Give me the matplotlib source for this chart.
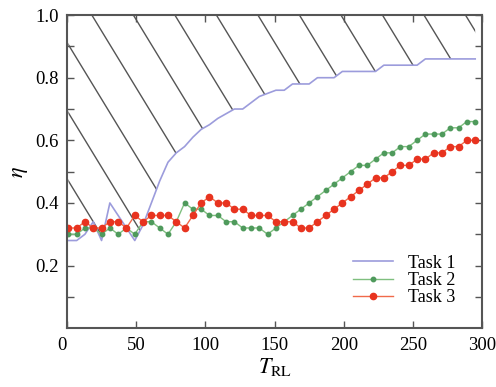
import numpy as np
import matplotlib.pyplot as plt
from matplotlib.ticker import FixedLocator

plt.rcParams['font.family'] = ['Liberation Serif', 'DejaVu Serif']
plt.rcParams['mathtext.fontset'] = 'stix'

# sampling points along T_RL
t_rl = list(range(1, 300, 6))

task1 = [0.28, 0.28, 0.30, 0.34, 0.28, 0.40, 0.36, 0.32, 0.28, 0.33,
         0.40, 0.47, 0.53, 0.56, 0.58, 0.61, 0.635, 0.65, 0.67, 0.685,
         0.70, 0.70, 0.72, 0.74, 0.75, 0.76, 0.76, 0.78, 0.78, 0.78,
         0.80, 0.80, 0.80, 0.82, 0.82, 0.82, 0.82, 0.82, 0.84, 0.84,
         0.84, 0.84, 0.84, 0.86, 0.86, 0.86, 0.86, 0.86, 0.86, 0.86]

task2 = [0.30, 0.30, 0.32, 0.32, 0.30, 0.32, 0.30, 0.32, 0.30, 0.34,
         0.34, 0.32, 0.30, 0.34, 0.40, 0.38, 0.38, 0.36, 0.36, 0.34,
         0.34, 0.32, 0.32, 0.32, 0.30, 0.32, 0.34, 0.36, 0.38, 0.40,
         0.42, 0.44, 0.46, 0.48, 0.50, 0.52, 0.52, 0.54, 0.56, 0.56,
         0.58, 0.58, 0.60, 0.62, 0.62, 0.62, 0.64, 0.64, 0.66, 0.66]

task3 = [0.32, 0.32, 0.34, 0.32, 0.32, 0.34, 0.34, 0.32, 0.36, 0.34,
         0.36, 0.36, 0.36, 0.34, 0.32, 0.36, 0.40, 0.42, 0.40, 0.40,
         0.38, 0.38, 0.36, 0.36, 0.36, 0.34, 0.34, 0.34, 0.32, 0.32,
         0.34, 0.36, 0.38, 0.40, 0.42, 0.44, 0.46, 0.48, 0.48, 0.50,
         0.52, 0.52, 0.54, 0.54, 0.56, 0.56, 0.58, 0.58, 0.60, 0.60]

labels = ['Task 1', 'Task 2', 'Task 3']

fig = plt.figure(figsize=(4.96, 3.87), dpi=100)
ax = fig.add_axes([0.135, 0.152, 0.837, 0.809])

# hatched region above task 1 (sparse steep diagonal lines)
region = ax.fill_between(t_rl, task1, 1.0, facecolor='none', edgecolor='none')
clip = region.get_paths()[0]
dx, dy = 0.188, -0.409
for x0 in np.arange(-0.24, 1.0, 0.1):
    ln, = ax.plot([x0 - dx, x0 + 2 * dx], [1.0 - dy, 1.0 + 2 * dy],
                  transform=ax.transAxes, color='#555555', lw=1.0)
    ln.set_clip_path(clip, ax.transData)

ax.plot(t_rl, task1, color='#9c9cdc', lw=1.2, label=labels[0])
ax.plot(t_rl, task2, color='#7fbf7f', lw=1.0, marker='o', ms=3.2,
        mfc='#4f9a5c', mec='#4f9a5c', label=labels[1])
ax.plot(t_rl, task3, color='#f06a4a', lw=1.0, marker='o', ms=4.5,
        mfc='#e8331f', mec='#e8331f', label=labels[2])

ax.set_xlim(0, 300)
ax.set_ylim(0, 1.0)
ax.set_xticks([0, 50, 100, 150, 200, 250, 300])
ax.set_yticks([0.2, 0.4, 0.6, 0.8, 1.0])
ax.set_yticklabels(['0.2', '0.4', '0.6', '0.8', '1.0'])
ax.yaxis.set_minor_locator(FixedLocator([0.1, 0.3, 0.5, 0.7, 0.9]))
ax.tick_params(which='both', direction='in', length=5, width=1.0,
               color='#555555', top=True, right=True, labelsize=13.5, pad=6)
ax.get_xticklabels()[0].set_ha('right')

for s in ax.spines.values():
    s.set_color('#555555')
    s.set_linewidth(1.5)

ax.set_xlabel(r'$T_{\mathrm{RL}}$', fontsize=16, labelpad=2)
ax.set_ylabel(r'$\eta$', fontsize=16, labelpad=4)

ax.legend(loc='upper left', bbox_to_anchor=(0.69, 0.235), frameon=False,
          fontsize=13, handlelength=2.2, handletextpad=0.8,
          labelspacing=0.02, borderpad=0, borderaxespad=0)

fig.savefig('out.png', dpi=100)
